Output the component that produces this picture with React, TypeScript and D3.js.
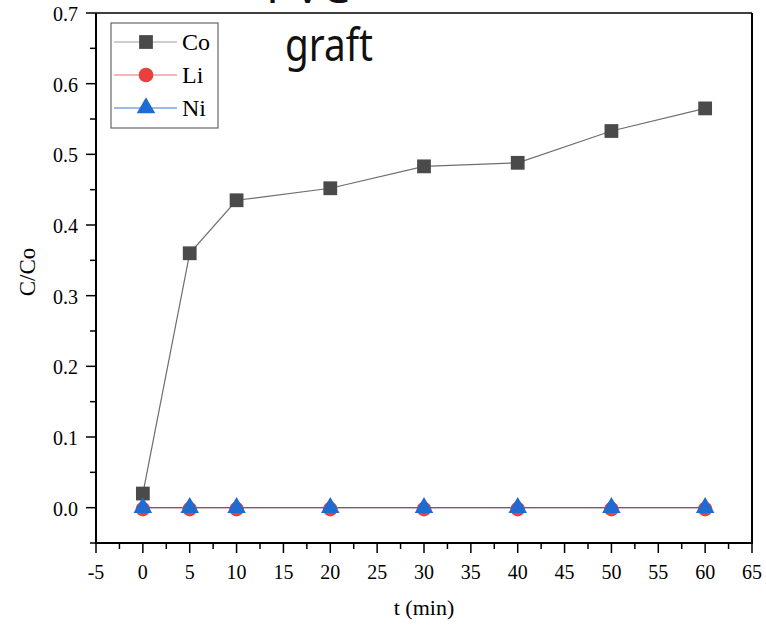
import * as d3 from "d3"

const times = [0, 5, 10, 20, 30, 40, 50, 60]
const coValues = [0.02, 0.36, 0.435, 0.452, 0.483, 0.488, 0.533, 0.565]
const liValues = [0, 0, 0, 0, 0, 0, 0, 0]
const niValues = [0, 0, 0, 0, 0, 0, 0, 0]
const xTicks = [-5, 0, 5, 10, 15, 20, 25, 30, 35, 40, 45, 50, 55, 60, 65]
const yTicks = [0.0, 0.1, 0.2, 0.3, 0.4, 0.5, 0.6, 0.7]

const W = 766
const H = 630
const left = 96
const right = 752
const top = 13
const bottom = 543

const serif = "'Liberation Serif', 'Times New Roman', serif"
const sans = "'Noto Sans', 'Open Sans', sans-serif"

type Series = {
  name: string
  values: number[]
  line: string
  legendLine: string
  fill: string
  symbol: d3.SymbolType
  size: number
}

const series: Series[] = [
  { name: "Co", values: coValues, line: "#6e6e6e", legendLine: "#a0a0a0", fill: "#4a4a4a", symbol: d3.symbolSquare, size: 190 },
  { name: "Li", values: liValues, line: "#e06060", legendLine: "#e07070", fill: "#e8403f", symbol: d3.symbolCircle, size: 170 },
  { name: "Ni", values: niValues, line: "#4a6a9a", legendLine: "#3a7ad0", fill: "#1e6bd2", symbol: d3.symbolTriangle, size: 150 },
]

export default function App() {
  const x = d3.scaleLinear().domain([-5, 65]).range([left, right])
  const y = d3.scaleLinear().domain([-0.05, 0.7]).range([bottom, top])

  const line = d3
    .line<number>()
    .x((_, i) => x(times[i]))
    .y((v) => y(v))

  const xMinor = d3.range(-2.5, 65, 5)
  const yMinor = d3.range(-0.05, 0.7, 0.1)

  return (
    <svg width={W} height={H} style={{ position: "absolute", left: 0, top: 0, background: "#fff" }}>
      {/* title, first line cut by the top edge */}
      <text x={266} y={3} fontFamily={sans} fontSize={46} fill="#111" textLength={84} lengthAdjust="spacingAndGlyphs">
        PVC
      </text>
      <text x={285} y={61} fontFamily={sans} fontSize={46} fill="#111" textLength={88} lengthAdjust="spacingAndGlyphs">
        graft
      </text>

      {/* frame */}
      <line x1={left} x2={right} y1={top} y2={top} stroke="#000" strokeWidth={1.5} />
      <line x1={right} x2={right} y1={top} y2={bottom} stroke="#000" strokeWidth={2} />
      <line x1={left} x2={left} y1={top} y2={bottom + 1} stroke="#000" strokeWidth={2} />
      <line x1={left - 1} x2={right + 1} y1={bottom} y2={bottom} stroke="#000" strokeWidth={2} />

      {/* y ticks */}
      {yTicks.map((t) => (
        <g key={`y${t}`}>
          <line x1={left - 10} x2={left} y1={y(t)} y2={y(t)} stroke="#000" strokeWidth={1.5} />
          <text x={78} y={y(t) + 8} textAnchor="end" fontFamily={serif} fontSize={20}>
            {d3.format(".1f")(t)}
          </text>
        </g>
      ))}
      {yMinor.map((t) => (
        <line key={`ym${t}`} x1={left - 6} x2={left} y1={y(t)} y2={y(t)} stroke="#000" strokeWidth={1.5} />
      ))}

      {/* x ticks */}
      {xTicks.map((t) => (
        <g key={`x${t}`}>
          <line x1={x(t)} x2={x(t)} y1={bottom} y2={bottom + 10} stroke="#000" strokeWidth={1.5} />
          <text x={x(t)} y={579} textAnchor="middle" fontFamily={serif} fontSize={20}>
            {t}
          </text>
        </g>
      ))}
      {xMinor.map((t) => (
        <line key={`xm${t}`} x1={x(t)} x2={x(t)} y1={bottom} y2={bottom + 6} stroke="#000" strokeWidth={1.5} />
      ))}

      {/* axis titles */}
      <text x={424} y={615} textAnchor="middle" fontFamily={serif} fontSize={22}>
        t (min)
      </text>
      <text transform="translate(35, 272) rotate(-90)" textAnchor="middle" fontFamily={serif} fontSize={23}>
        C/Co
      </text>

      {/* series */}
      {series.map((s) => (
        <g key={s.name}>
          <path d={line(s.values) ?? ""} fill="none" stroke={s.line} strokeWidth={1.2} />
          {s.values.map((v, i) => (
            <path
              key={i}
              d={d3.symbol(s.symbol, s.size)() ?? ""}
              transform={`translate(${x(times[i])}, ${y(v) + (s.name === "Li" ? 1.5 : 0)})`}
              fill={s.fill}
            />
          ))}
        </g>
      ))}

      {/* legend */}
      <rect x={111} y={23} width={107} height={105} fill="#fff" stroke="#666" strokeWidth={1.2} />
      {series.map((s, i) => {
        const ly = 42 + i * 33
        return (
          <g key={`lg${s.name}`}>
            <line x1={114} x2={177} y1={ly} y2={ly} stroke={s.legendLine} strokeWidth={1.2} />
            <path d={d3.symbol(s.symbol, s.size)() ?? ""} transform={`translate(146, ${ly})`} fill={s.fill} />
            <text x={182} y={ly + 8} fontFamily={serif} fontSize={24}>
              {s.name}
            </text>
          </g>
        )
      })}
    </svg>
  )
}
